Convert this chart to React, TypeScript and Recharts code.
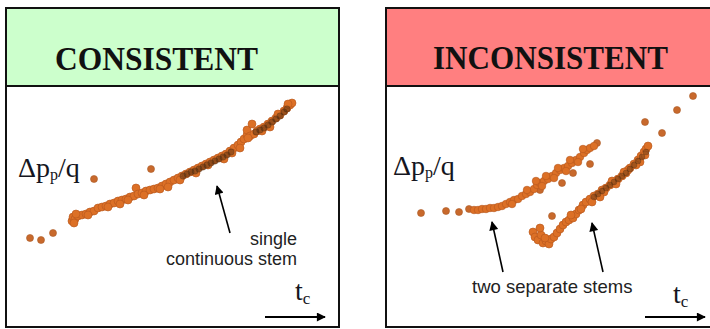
import React from 'react';
import { ScatterChart, Scatter, XAxis, YAxis } from 'recharts';

// left panel (consistent): t_c vs Δp_p/q, arbitrary units
const leftStray = [
  [2.2, 8.9], [3.3, 8.7], [4.5, 9.4], [8.6, 14.8], [14.3, 15.8],
];
const leftStem = [
  [6.4, 10.6], [6.5, 11.0], [6.7, 10.8], [6.6, 10.4], [7.0, 11.1], [7.4, 11.2], [7.8, 11.3], [8.2, 11.5],
  [8.6, 11.6], [9.0, 11.9], [9.4, 12.0], [9.8, 12.1], [10.2, 12.3], [10.6, 12.4], [11.0, 12.6],
  [11.4, 12.7], [11.8, 12.8], [12.2, 13.0], [12.6, 13.1], [12.8, 13.9], [13.0, 13.3], [13.4, 13.4],
  [13.8, 13.6], [14.2, 13.7], [14.6, 13.8], [15.0, 13.9], [15.4, 14.1], [15.8, 14.3], [16.2, 14.5],
  [16.6, 14.7], [17.0, 14.9], [17.4, 15.1], [17.8, 15.3], [18.2, 15.5], [18.6, 15.7], [19.0, 15.9],
  [19.4, 16.1], [19.8, 16.3], [20.2, 16.5], [20.6, 16.7], [21.0, 16.9], [21.4, 17.1], [21.8, 17.3],
  [22.2, 17.6], [22.6, 17.9], [23.0, 18.2], [23.3, 18.5], [23.6, 18.8], [23.9, 19.2], [23.9, 19.7],
  [24.2, 19.1], [24.4, 20.3], [24.6, 19.3], [24.9, 19.6], [25.2, 19.8], [25.6, 20.0], [26.0, 20.3],
  [26.4, 20.6], [26.8, 20.9], [27.2, 21.2], [27.6, 21.6], [27.9, 21.9], [28.2, 22.2], [28.4, 22.4],
  [10.0, 12.0], [12.0, 12.7], [15.2, 13.8], [17.2, 14.7], [20.0, 16.2], [22.4, 17.4], [25.4, 19.6],
  [6.8, 11.3], [8.0, 11.2], [11.2, 12.3], [13.6, 13.2], [16.0, 14.0], [18.8, 15.4], [21.6, 16.8],
  [23.2, 17.9], [24.0, 18.9], [26.2, 20.0], [27.0, 21.3], [28.0, 22.3],
];
const leftStemDark = [
  [17.5, 15.1], [17.9, 15.3], [18.3, 15.5], [18.7, 15.6], [19.1, 15.8], [19.5, 16.0], [19.9, 16.2],
  [20.3, 16.4], [20.7, 16.6], [21.1, 16.8], [21.5, 17.0], [21.9, 17.2], [22.3, 17.5],
  [24.8, 19.5], [25.2, 19.7], [25.6, 19.9], [26.0, 20.2], [26.4, 20.5], [26.8, 20.8], [27.2, 21.1],
  [27.6, 21.5], [27.9, 21.8],
];

// right panel (inconsistent)
const rightStray = [
  [3.3, 11.4], [5.8, 11.6], [7.1, 11.5], [8.1, 11.8],
  [20.9, 18.4], [15.2, 13.7], [17.4, 14.4], [18.5, 15.4], [20.2, 16.3], [16.4, 11.1],
  [25.7, 20.5], [27.4, 19.4], [28.9, 21.7], [30.5, 23.1],
];
const rightStemA = [
  [8.6, 11.7], [9.0, 11.7], [9.4, 11.8], [9.8, 11.8], [10.2, 11.9], [10.6, 11.9], [11.0, 12.0],
  [11.4, 12.1], [11.8, 12.3], [12.2, 12.5], [12.6, 12.7], [13.0, 12.8], [13.4, 13.1], [13.8, 13.3],
  [14.2, 13.5], [14.6, 13.8], [14.9, 14.2], [15.2, 14.4], [15.6, 14.6], [16.0, 14.8], [16.4, 15.1],
  [16.8, 15.4], [17.2, 15.7], [17.6, 15.9], [18.0, 16.1], [18.4, 16.4], [18.8, 16.7], [19.2, 17.0],
  [19.6, 17.4], [19.9, 17.7], [20.2, 17.9], [20.6, 18.1],
  [13.9, 13.7], [14.8, 14.6], [15.8, 15.1], [17.0, 15.9], [18.2, 16.7], [19.5, 17.8],
  [12.4, 12.3], [15.4, 14.1], [16.6, 14.9], [17.8, 15.6], [19.0, 16.5],
];
const rightStemB = [
  [14.5, 9.5], [14.7, 9.0], [15.0, 8.7], [15.3, 9.2], [15.5, 8.4], [15.8, 8.6], [16.1, 8.3],
  [16.3, 8.8], [16.6, 9.0], [16.9, 9.4], [17.2, 9.8], [17.5, 10.2], [17.8, 10.5], [18.1, 10.7],
  [18.5, 10.9], [18.8, 11.3], [19.1, 11.7], [19.5, 12.2], [19.8, 12.5], [20.2, 12.8], [20.6, 13.1],
  [21.0, 13.3], [21.4, 13.7], [21.8, 13.9], [22.2, 14.2], [22.6, 14.5], [23.0, 14.8], [23.4, 15.1],
  [23.8, 15.4], [24.2, 15.9], [24.6, 16.3], [25.0, 16.7], [25.3, 17.1], [25.6, 17.5], [25.8, 17.8],
  [26.0, 18.1],
  [20.4, 12.5], [21.6, 13.5], [22.8, 14.3], [24.0, 15.7], [25.2, 16.5], [25.7, 17.2], [21.2, 13.0],
  [15.2, 9.9], [15.7, 8.9], [18.3, 11.2], [19.3, 11.8], [22.4, 14.6], [23.6, 15.5], [24.8, 16.2],
];
const rightStemDark = [
  [20.6, 13.0], [21.0, 13.3], [21.4, 13.6], [21.8, 13.9], [22.2, 14.2], [22.6, 14.5], [23.0, 14.8],
  [23.4, 15.1], [23.8, 15.4], [24.2, 15.8], [24.6, 16.2], [25.0, 16.6], [25.4, 17.0], [25.8, 17.5],
];

const toPts = (arr: number[][]) => arr.map(([x, y]) => ({ x, y }));

const SERIF = '"Liberation Serif", "Times New Roman", serif';
const SANS = '"Liberation Sans", Arial, sans-serif';

const dot = (fill: string, stroke: string, r: number, op: number) => (p: any) => (
  <circle cx={p.cx} cy={p.cy} r={r} fill={fill} fillOpacity={op} stroke={stroke} strokeOpacity={op} strokeWidth={0.6} />
);

type Series = { pts: number[][]; fill: string; stroke: string; r: number; op?: number };

const Panel: React.FC<{ w: number; series: Series[] }> = ({ w, series }) => (
  <ScatterChart width={w} height={240} margin={{ top: 0, right: 0, bottom: 0, left: 0 }}>
    <XAxis type="number" dataKey="x" domain={[0, w / 10]} hide />
    <YAxis type="number" dataKey="y" domain={[0, 24]} hide />
    {series.map((s, i) => (
      <Scatter key={i} data={toPts(s.pts)} shape={dot(s.fill, s.stroke, s.r, s.op ?? 1)} isAnimationActive={false} />
    ))}
  </ScatterChart>
);

const DeltaLabel: React.FC<{ x: number; y: number }> = ({ x, y }) => (
  <text x={x} y={y} fontFamily={SERIF} fontSize={28} fill="#151520">
    Δp<tspan fontSize={16} dy={3}>p</tspan><tspan dy={-3} fontSize={28}>/q</tspan>
  </text>
);

const TcLabel: React.FC<{ x: number; y: number }> = ({ x, y }) => (
  <text x={x} y={y} fontFamily={SERIF} fontSize={28} fill="#151520">
    t<tspan fontSize={17} dy={4}>c</tspan>
  </text>
);

const ORANGE = '#dc7026';
const ORANGE_EDGE = '#b5561c';
const DARK = '#4a2a10';

export default function App() {
  return (
    <div style={{ position: 'absolute', left: 0, top: 0, width: 710, height: 329, background: '#fff', overflow: 'hidden' }}>
      <svg width={710} height={329} style={{ position: 'absolute', left: 0, top: 0 }}>
        <defs>
          <marker id="ah" viewBox="0 0 10 10" refX="9" refY="5" markerWidth="10" markerHeight="9" markerUnits="userSpaceOnUse" orient="auto">
            <path d="M0,0 L10,5 L0,10 z" fill="#000" />
          </marker>
        </defs>
        {/* left frame */}
        <rect x={6} y={8} width={333} height={78} fill="#ccffcc" />
        <rect x={6} y={8} width={333} height={319} fill="none" stroke="#111" strokeWidth={2} />
        <line x1={6} y1={86} x2={339} y2={86} stroke="#111" strokeWidth={2} />
        <text x={55} y={70} fontFamily={SERIF} fontWeight="bold" fontSize={33} textLength={203} lengthAdjust="spacingAndGlyphs" fill="#111">CONSISTENT</text>
        {/* right frame */}
        <rect x={386} y={8} width={340} height={78} fill="#ff7f80" />
        <rect x={386} y={8} width={340} height={319} fill="none" stroke="#111" strokeWidth={2} />
        <line x1={386} y1={86} x2={726} y2={86} stroke="#111" strokeWidth={2} />
        <text x={433} y={69} fontFamily={SERIF} fontWeight="bold" fontSize={33} textLength={235} lengthAdjust="spacingAndGlyphs" fill="#111">INCONSISTENT</text>

        <DeltaLabel x={18} y={177} />
        <DeltaLabel x={393} y={175} />

        <line x1={230} y1={233} x2={217} y2={186} stroke="#000" strokeWidth={1.6} markerEnd="url(#ah)" />
        <text x={297} y={245} textAnchor="end" fontFamily={SANS} fontSize={18} fill="#222">single</text>
        <text x={297} y={265} textAnchor="end" fontFamily={SANS} fontSize={18} fill="#222">continuous stem</text>

        <line x1={503} y1={272} x2={492} y2={222} stroke="#000" strokeWidth={1.6} markerEnd="url(#ah)" />
        <line x1={603} y1={272} x2={592} y2={223} stroke="#000" strokeWidth={1.6} markerEnd="url(#ah)" />
        <text x={472} y={293} fontFamily={SANS} fontSize={18.5} fill="#222">two separate stems</text>

        <TcLabel x={295} y={300} />
        <line x1={265} y1={317} x2={325} y2={317} stroke="#000" strokeWidth={2} markerEnd="url(#ah)" />
        <TcLabel x={673} y={303} />
        <line x1={645} y1={317} x2={705} y2={317} stroke="#000" strokeWidth={2} markerEnd="url(#ah)" />
      </svg>

      <div style={{ position: 'absolute', left: 8, top: 87 }}>
        <Panel
          w={330}
          series={[
            { pts: leftStray, fill: '#c8692c', stroke: '#a95a26', r: 3.5 },
            { pts: leftStem, fill: ORANGE, stroke: ORANGE_EDGE, r: 4 },
            { pts: leftStemDark, fill: DARK, stroke: DARK, r: 3.2, op: 0.45 },
          ]}
        />
      </div>
      <div style={{ position: 'absolute', left: 388, top: 87 }}>
        <Panel
          w={322}
          series={[
            { pts: rightStray, fill: '#c8692c', stroke: '#a95a26', r: 3.5 },
            { pts: rightStemA, fill: ORANGE, stroke: ORANGE_EDGE, r: 3.8 },
            { pts: rightStemB, fill: ORANGE, stroke: ORANGE_EDGE, r: 4 },
            { pts: rightStemDark, fill: DARK, stroke: DARK, r: 3, op: 0.4 },
          ]}
        />
      </div>
    </div>
  );
}
